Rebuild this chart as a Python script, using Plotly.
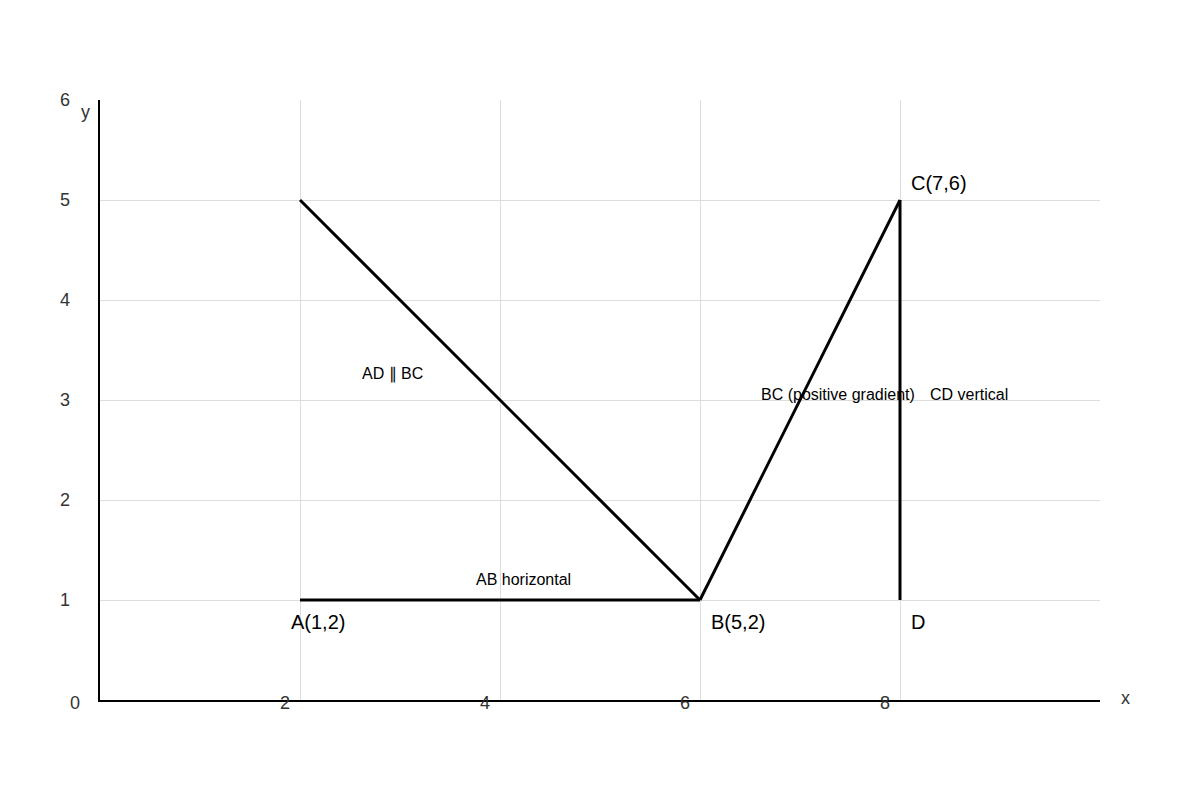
import plotly.graph_objects as go

segments = [((2, 1), (6, 1)), ((2, 5), (6, 1)), ((6, 1), (8, 5)), ((8, 5), (8, 1))]
point_labels = ["A(1,2)", "B(5,2)", "C(7,6)", "D"]
point_pos = [(2, 0.78), (6, 0.78), (8, 5.17), (8, 0.78)]
line_labels = ["AB horizontal", "AD ∥ BC", "BC (positive gradient)", "CD vertical"]
line_pos = [(4.23, 1.21), (2.6, 3.26), (6.59, 3.06), (8.28, 3.06)]
x_ticks = [2, 4, 6, 8]
y_ticks = [0, 1, 2, 3, 4, 5, 6]

fig = go.Figure()
for (p, q) in segments:
    fig.add_trace(go.Scatter(x=[p[0], q[0]], y=[p[1], q[1]], mode="lines",
                             line=dict(color="black", width=3), showlegend=False, hoverinfo="skip"))
ann = []
for t, (x, y) in zip(point_labels, point_pos):
    ann.append(dict(x=x, y=y, text=t, showarrow=False, xanchor="left", xshift=-11 if t.startswith("A") else 9,
                    font=dict(size=20)))
for t, (x, y) in zip(line_labels, line_pos):
    ann.append(dict(x=x, y=y, text=t, showarrow=False, xanchor="left" if t != "AB horizontal" else "center",
                    font=dict(size=16)))
for v in x_ticks:
    ann.append(dict(x=v, y=0, text=str(v), showarrow=False, xshift=-15, yshift=-3, font=dict(size=18, color="#333")))
for v in y_ticks:
    ann.append(dict(x=0, y=v, text=str(v), showarrow=False, xshift=-35 + (10 if v == 0 else 0), yshift=-3 if v == 0 else 0,
                    font=dict(size=18, color="#333")))
ann.append(dict(x=0, y=6, text="y", showarrow=False, xshift=-15, yshift=-12, font=dict(size=18, color="#333")))
ann.append(dict(x=10, y=0, text="x", showarrow=False, xshift=25, yshift=2, font=dict(size=18, color="#333")))

fig.update_layout(width=1200, height=800, margin=dict(l=92, r=108, t=92, b=108),
                  plot_bgcolor="white", paper_bgcolor="white",
                  font=dict(family="Liberation Sans, Arial", color="black"),
                  annotations=ann)
fig.update_xaxes(range=[0, 10], tickvals=x_ticks, showticklabels=False, showgrid=True, gridcolor="#ddd",
                 showline=True, linecolor="black", linewidth=2, zeroline=False)
fig.update_yaxes(range=[0, 6], tickvals=[1, 2, 3, 4, 5], showticklabels=False, showgrid=True, gridcolor="#ddd",
                 showline=True, linecolor="black", linewidth=2, zeroline=False)
fig.write_html("out.html")
